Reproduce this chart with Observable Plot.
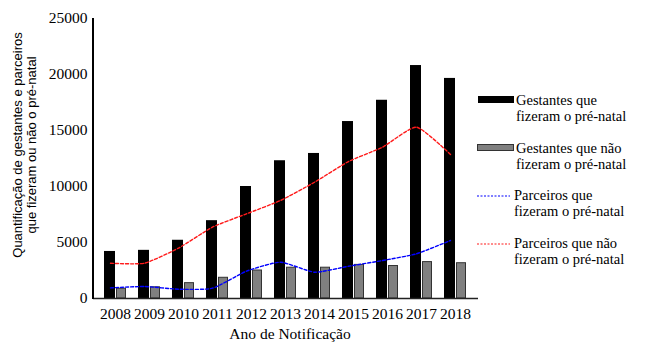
<!DOCTYPE html>
<html><head><meta charset="utf-8">
<script src="https://cdn.jsdelivr.net/npm/d3@7"></script>
<script src="https://cdn.jsdelivr.net/npm/@observablehq/plot@0.6"></script>
<style>body{margin:0;background:#fff}</style>
</head><body><div id="chart"></div>
<script>
const years = ["2008","2009","2010","2011","2012","2013","2014","2015","2016","2017","2018"];
const gestantesFizeram = [4200,4300,5200,6950,10000,12300,12950,15800,17700,20800,19650];
const gestantesNaoFizeram = [870,1000,1370,1850,2500,2750,2750,3000,2900,3250,3150];
const parceirosFizeram = [950,1070,830,920,2440,3240,2350,2880,3390,3990,5180];
const parceirosNaoFizeram = [3150,3150,4500,6370,7560,8750,10380,12230,13510,15300,12860];
const yTicks = [0,5000,10000,15000,20000,25000];
const legendLabels = [
  ["Gestantes que","fizeram o pré-natal"],
  ["Gestantes que não","fizeram o pré-natal"],
  ["Parceiros que","fizeram o pré-natal"],
  ["Parceiros que não","fizeram o pré-natal"]
];
const yLabel = ["Quantificação de gestantes e parceiros","que fizeram ou não o pré-natal"];
const xLabel = "Ano de Notificação";

const rows = years.map((y,i)=>({year:y,g1:gestantesFizeram[i],g0:gestantesNaoFizeram[i],p1:parceirosFizeram[i],p0:parceirosNaoFizeram[i]}));
const serif = "Liberation Serif, DejaVu Serif, serif";

const plot = Plot.plot({
  width:645, height:345,
  marginLeft:93, marginRight:167, marginTop:18, marginBottom:47,
  style:{fontFamily:serif, fontSize:"15px", color:"#000", background:"#fff", overflow:"visible"},
  x:{type:"band", domain:years, paddingInner:0.34, paddingOuter:0.19, label:null},
  y:{domain:[0,25000], label:null},
  marks:[
    Plot.axisX({tickSize:0, tickPadding:9, fontSize:15.5, fontFamily:serif, label:null}),
    Plot.axisY({ticks:yTicks, tickFormat:d=>String(d), tickSize:0, tickPadding:6, fontSize:15.5, fontFamily:serif, label:null}),
    Plot.rectY(rows,{x:"year", y:"g1", fill:"#000", insetRight:11}),
    Plot.rectY(rows,{x:"year", y:"g0", fill:"#808080", stroke:"#333", strokeWidth:1, insetLeft:12.5, insetRight:0.5}),
    Plot.ruleY([0],{stroke:"#222", strokeWidth:1.5}),
    Plot.lineY(rows,{x:"year", y:"p1", stroke:"#0000ff", strokeWidth:1.4, strokeDasharray:"3,2", curve:"cardinal", tension:0.45, dx:-5}),
    Plot.lineY(rows,{x:"year", y:"p0", stroke:"#ff1a1a", strokeWidth:1.4, strokeDasharray:"3,2", curve:"cardinal", tension:0.45, dx:-5})
  ]
});
document.getElementById("chart").appendChild(plot);

const svg = d3.select(plot);
const ys = plot.scale("y");
// left axis line
svg.append("line").attr("x1",93).attr("x2",93).attr("y1",ys.apply(25000)).attr("y2",ys.apply(0)+1)
  .attr("stroke","#000").attr("stroke-width",2);

// y label
const yl = svg.append("text").attr("transform","translate(29,145) rotate(-90)")
  .attr("text-anchor","middle").attr("font-family","Liberation Sans, Arial, sans-serif").attr("font-size",13);
yl.append("tspan").attr("x",0).attr("dy",-7).text(yLabel[0]);
yl.append("tspan").attr("x",0).attr("dy",13.5).text(yLabel[1]);

// x label
svg.append("text").attr("x",290).attr("y",339).attr("text-anchor","middle")
  .attr("font-family",serif).attr("font-size",15.5).text(xLabel);

// legend
const legY = [101,149,196,244];
const lg = svg.append("g").attr("font-family",serif).attr("font-size",14.5).attr("text-anchor","start");
legendLabels.forEach((lab,i)=>{
  const y = legY[i];
  if(i===0) lg.append("rect").attr("x",478).attr("y",y-5).attr("width",36).attr("height",7).attr("fill","#000");
  if(i===1) lg.append("rect").attr("x",477.5).attr("y",y-4.5).attr("width",36).attr("height",6).attr("fill","#808080").attr("stroke","#333");
  if(i===2) lg.append("line").attr("x1",477).attr("x2",510).attr("y1",y).attr("y2",y).attr("stroke","#0000ff").attr("stroke-width",1.2).attr("stroke-dasharray","2,1.5");
  if(i===3) lg.append("line").attr("x1",477).attr("x2",510).attr("y1",y).attr("y2",y).attr("stroke","#ff1a1a").attr("stroke-width",1.2).attr("stroke-dasharray","2,1.5");
  const x0 = i<2?516:514;
  lg.append("text").attr("x", x0).attr("y",y+4).text(lab[0]);
  lg.append("text").attr("x", x0).attr("y",y+19.5).text(lab[1]);
});
</script></body></html>
